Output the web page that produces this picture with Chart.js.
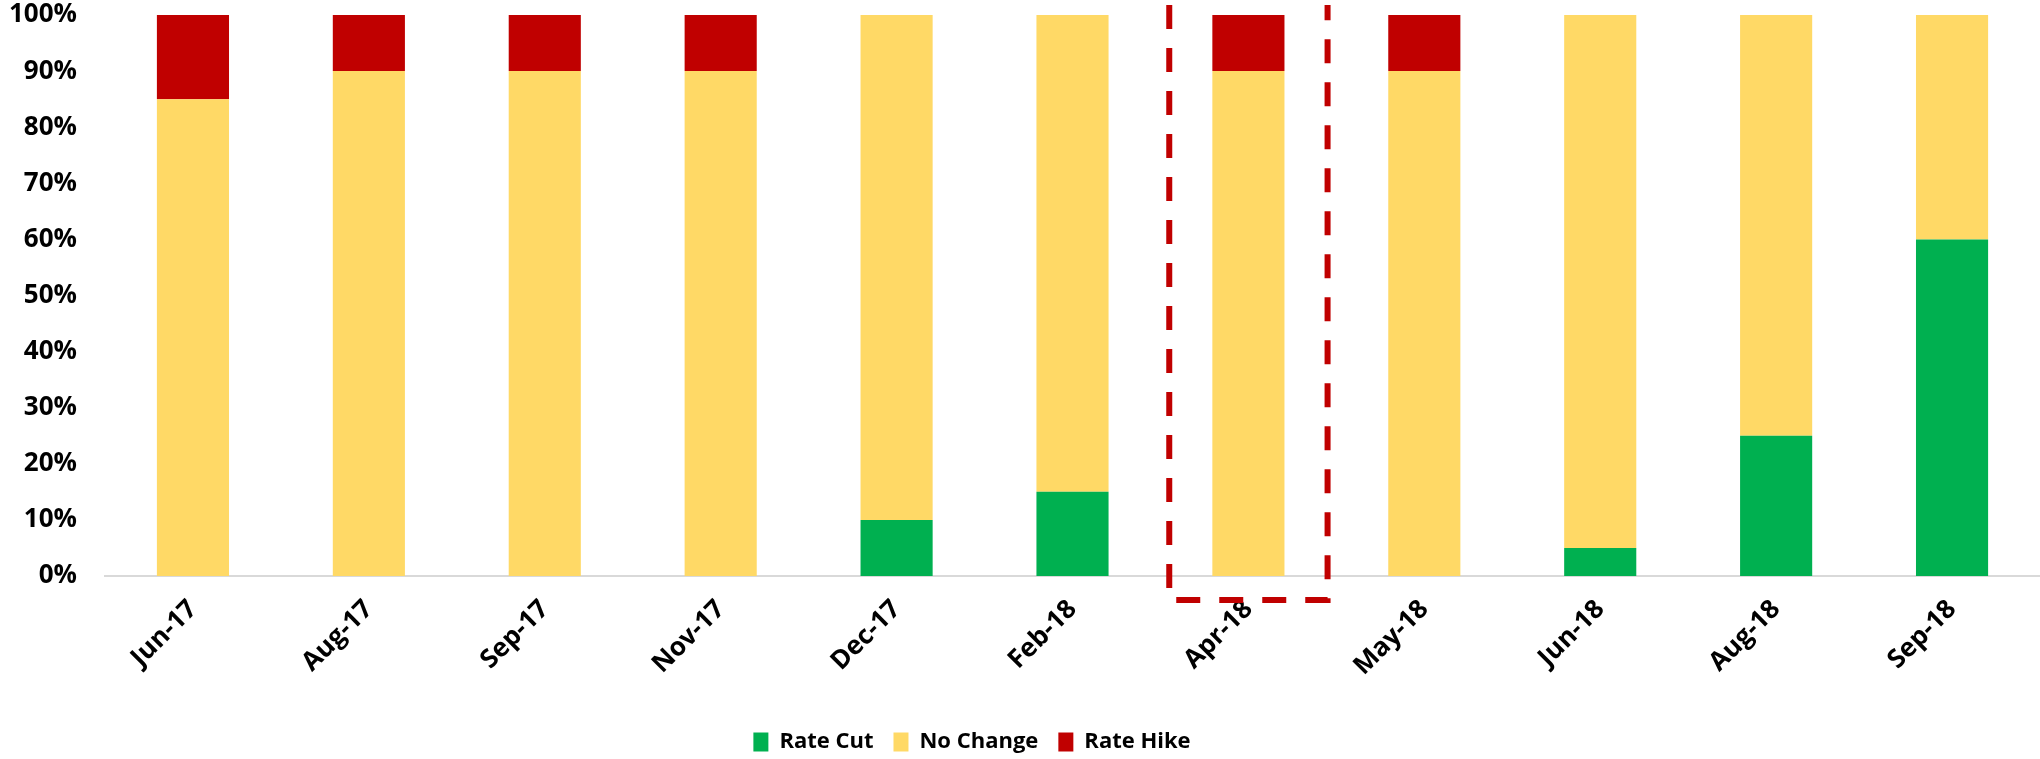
<!DOCTYPE html>
<html>
<head>
<meta charset="utf-8">
<script src="https://cdn.jsdelivr.net/npm/chart.js@4.4.1/dist/chart.umd.min.js"></script>
<style>
  html, body { margin: 0; padding: 0; background: #ffffff; }
  #wrap { width: 2040px; height: 759px; position: relative; }
</style>
</head>
<body>
<div id="wrap"><canvas id="c"></canvas></div>
<script>
const categories = ['Jun-17','Aug-17','Sep-17','Nov-17','Dec-17','Feb-18','Apr-18','May-18','Jun-18','Aug-18','Sep-18'];
const rateCut   = [0, 0, 0, 0, 10, 15, 0, 0, 5, 25, 60];
const noChange  = [85, 90, 90, 90, 90, 85, 90, 90, 95, 75, 40];
const rateHike  = [15, 10, 10, 10, 0, 0, 10, 10, 0, 0, 0];
const yTicks = [0,10,20,30,40,50,60,70,80,90,100];
const highlightCategory = 'Apr-18';

const FONT = '"Open Sans", Lato, sans-serif';

const highlightBox = {
  id: 'highlightBox',
  afterLayout(chart) {
    if (chart.legend) { chart.legend.left -= 48; chart.legend.right -= 48; }
  },
  afterDraw(chart) {
    const x = chart.scales.x;
    const idx = categories.indexOf(highlightCategory);
    if (idx < 0) return;
    const cx = x.getPixelForValue(idx);
    const step = x.getPixelForValue(1) - x.getPixelForValue(0);
    const half = step * 0.45;
    const area = chart.chartArea;
    const top = area.top - 10;
    const bottom = area.bottom + 24;
    const ctx = chart.ctx;
    ctx.save();
    ctx.strokeStyle = '#C00000';
    ctx.lineWidth = 6;
    ctx.setLineDash([24, 19]);
    ctx.beginPath();
    ctx.moveTo(cx - half, top);
    ctx.lineTo(cx - half, bottom);
    ctx.lineTo(cx + half, bottom);
    ctx.lineTo(cx + half, top);
    ctx.stroke();
    ctx.restore();
  }
};

new Chart(document.getElementById('c'), {
  type: 'bar',
  data: {
    labels: categories,
    datasets: [
      { label: 'Rate Cut', data: rateCut, backgroundColor: '#00B050' },
      { label: 'No Change', data: noChange, backgroundColor: '#FFD966' },
      { label: 'Rate Hike', data: rateHike, backgroundColor: '#C00000' }
    ]
  },
  options: {
    responsive: true,
    maintainAspectRatio: false,
    animation: false,
    layout: { padding: { top: 15, right: 0, left: 0, bottom: -4 } },
    datasets: { bar: { categoryPercentage: 1.0, barPercentage: 0.41 } },
    plugins: {
      legend: {
        position: 'bottom',
        labels: {
          font: { family: FONT, size: 22, weight: 'bold' },
          color: '#000000',
          boxWidth: 15,
          boxHeight: 19,
          padding: 20
        }
      },
      tooltip: { enabled: false }
    },
    scales: {
      x: {
        stacked: true,
        grid: { display: false, drawTicks: false },
        border: { display: true, color: '#D9D9D9', width: 2 },
        ticks: {
          font: { family: FONT, size: 26, weight: 'bold' },
          color: '#000000',
          maxRotation: 45,
          minRotation: 45,
          padding: 18
        },
        afterFit(s) { s.height = 135; }
      },
      y: {
        stacked: true,
        min: 0,
        max: 100,
        afterBuildTicks(s) { s.ticks = yTicks.map(v => ({ value: v })); },
        grid: { display: false, drawTicks: false },
        border: { display: false },
        ticks: {
          font: { family: FONT, size: 26, weight: 'bold' },
          color: '#000000',
          padding: 28,
          callback: v => v + '%'
        },
        afterFit(s) { s.width = 105; s.paddingTop = 0; s.paddingBottom = 0; }
      }
    }
  },
  plugins: [highlightBox]
});
</script>
</body>
</html>
